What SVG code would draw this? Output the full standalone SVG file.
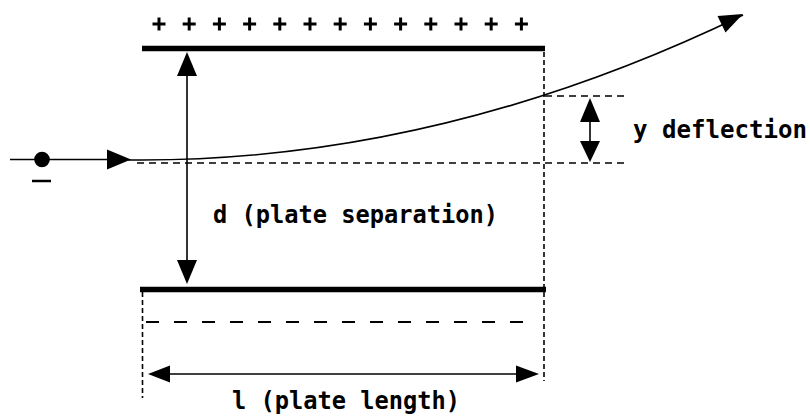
<svg xmlns="http://www.w3.org/2000/svg" width="810" height="416" viewBox="0 0 810 416">
<style>
.plate{stroke:#000;stroke-width:5.5;fill:none}
.plus{stroke:#000;stroke-width:3;fill:none}
.line{stroke:#000;stroke-width:1.6;fill:none}
.dotv{stroke:#000;stroke-width:1.6;fill:none;stroke-dasharray:5 3}
.doth{stroke:#000;stroke-width:1.6;fill:none;stroke-dasharray:7 5}
.longd{stroke:#000;stroke-width:1.8;fill:none;stroke-dasharray:13 15}
.head{fill:#000;stroke:none}
.lbl{font-family:"DejaVu Sans Mono","Liberation Mono",monospace;font-weight:bold;font-size:24px;fill:#000}
</style>
<rect width="810" height="416" fill="#fff"/>
<g id="top-plate">
<line class="plate" x1="142" y1="48.5" x2="545" y2="48.5"/>
<g id="charges">
<path class="plus" d="M152.5,24h13M159,17.5v13M182.7,24h13M189.2,17.5v13M212.9,24h13M219.4,17.5v13M243.1,24h13M249.6,17.5v13M273.3,24h13M279.8,17.5v13M303.5,24h13M310,17.5v13M333.7,24h13M340.2,17.5v13M363.9,24h13M370.4,17.5v13M394.1,24h13M400.6,17.5v13M424.3,24h13M430.8,17.5v13M454.5,24h13M461,17.5v13M484.7,24h13M491.2,17.5v13M514.9,24h13M521.4,17.5v13"/>
</g>
</g>
<g id="bottom-plate">
<line class="plate" x1="140" y1="289.5" x2="546" y2="289.5"/>
</g>
<g id="electron">
<circle cx="42" cy="159.5" r="7.8" fill="#000"/>
<line x1="32" y1="181" x2="51" y2="181" stroke="#000" stroke-width="2.5"/>
</g>
<g id="connectors">
<line class="line" x1="10" y1="159.5" x2="110" y2="159.5"/>
<polygon class="head" points="107,149.5 131,159.5 107,169.5"/>
<path class="line" d="M128,160 L142,160 Q443,160 743,15"/>
<polygon class="head" points="743,14 717.5,16 725.5,32.5"/>
<line class="doth" x1="137" y1="163" x2="629" y2="163"/>
<line class="doth" x1="545" y1="96" x2="625" y2="96"/>
<line class="dotv" x1="544" y1="52" x2="544" y2="381"/>
<line class="dotv" x1="142.5" y1="292" x2="142.5" y2="398"/>
<line class="longd" x1="146" y1="322" x2="530" y2="322"/>
<line class="line" x1="187" y1="70" x2="187" y2="265"/>
<polygon class="head" points="187,52 177,76 197,76"/>
<polygon class="head" points="187,284 177,260 197,260"/>
<line class="line" x1="590" y1="115" x2="590" y2="145"/>
<polygon class="head" points="590,98 580,122 600,122"/>
<polygon class="head" points="590,162 580,141 600,141"/>
<line class="line" x1="165" y1="374" x2="520" y2="374"/>
<polygon class="head" points="148,374 170,365.5 170,382.5"/>
<polygon class="head" points="539,374 516,365.5 516,382.5"/>
</g>
<g id="labels">
<text class="lbl" x="213" y="223" textLength="285" lengthAdjust="spacingAndGlyphs">d (plate separation)</text>
<text class="lbl" x="633" y="138" textLength="174" lengthAdjust="spacingAndGlyphs">y deflection</text>
<text class="lbl" x="232" y="409" textLength="228" lengthAdjust="spacingAndGlyphs">l (plate length)</text>
</g>
</svg>
